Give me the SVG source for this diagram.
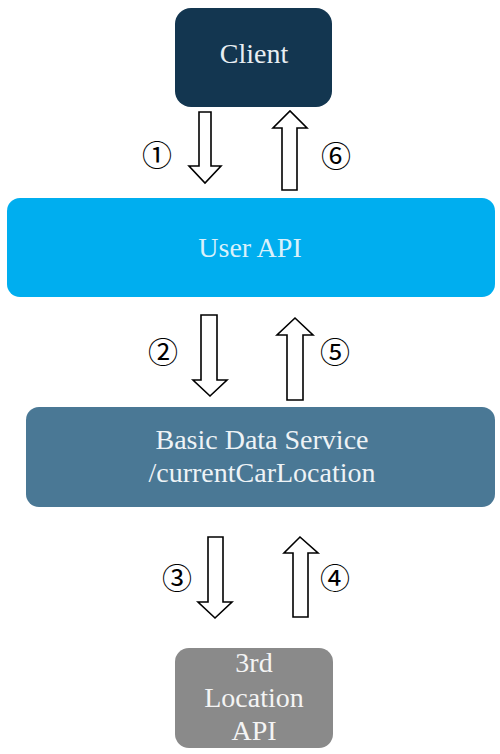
<svg xmlns="http://www.w3.org/2000/svg" width="500" height="754" viewBox="0 0 500 754">
<style>
.lbl{font-family:"Liberation Serif","Times New Roman",serif;text-anchor:middle;font-size:28px}
.num{font-family:"Noto Sans CJK SC","DejaVu Sans",sans-serif;font-size:30px;text-anchor:middle;fill:#000}
.arr{fill:#fff;stroke:#000;stroke-width:1.6;stroke-linejoin:miter}
</style>
<rect width="500" height="754" fill="#fff"/>
<g id="client">
<rect x="175" y="8" width="157" height="99" rx="16" fill="#133650"/>
<text class="lbl" x="254" y="63" fill="#e8eef2">Client</text>
</g>
<g id="user-api">
<rect x="7" y="198" width="488" height="99" rx="13" fill="#00aeef"/>
<text class="lbl" x="250" y="257" fill="#d9f1fb">User API</text>
</g>
<g id="basic-data-service">
<rect x="26" y="407" width="469" height="100" rx="13" fill="#4a7895"/>
<text class="lbl" x="262" y="449" fill="#eef3f6">Basic Data Service</text>
<text class="lbl" x="262" y="482" fill="#eef3f6">/currentCarLocation</text>
</g>
<g id="third-location-api">
<rect x="175" y="648" width="158" height="100" rx="14" fill="#8a8a8a"/>
<text class="lbl" x="254" y="672" font-size="27" fill="#f4f4f4">3rd</text>
<text class="lbl" x="254" y="707" font-size="27" fill="#f4f4f4">Location</text>
<text class="lbl" x="254" y="740" font-size="27" fill="#f4f4f4">API</text>
</g>
<g id="connectors">
<polygon class="arr" points="199,112 211,112 211,166 221,166 205,183 189,166 199,166"/>
<polygon class="arr" points="282,190 297,190 297,128 307,128 290,111 273,128 282,128"/>
<polygon class="arr" points="201,315 217,315 217,380 227,380 210,396 193,380 201,380"/>
<polygon class="arr" points="287,400 303,400 303,335 313,335 295,318 277,335 287,335"/>
<polygon class="arr" points="208,537 223,537 223,602 232,602 215,618 198,602 208,602"/>
<polygon class="arr" points="293,617 308,617 308,553 318,553 300,537 284,553 293,553"/>
<text class="num" x="157" y="166">①</text>
<text class="num" x="336" y="167">⑥</text>
<text class="num" x="163" y="363">②</text>
<text class="num" x="335" y="363">⑤</text>
<text class="num" x="177" y="589">③</text>
<text class="num" x="335" y="589">④</text>
</g>
</svg>
